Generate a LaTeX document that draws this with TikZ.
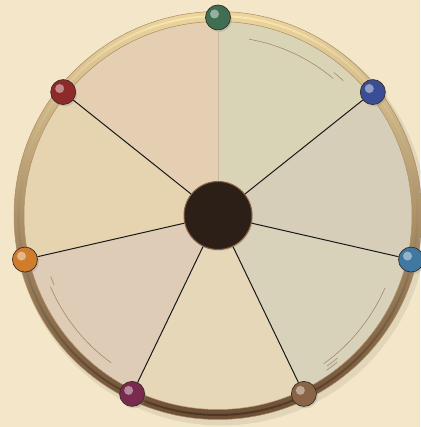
\documentclass[tikz,border=0pt]{standalone}
\usepackage{xcolor}
\usepackage{tikz}
\usetikzlibrary{shadows}
\definecolor{paper}{HTML}{F4E7C9}
\definecolor{rimlight}{HTML}{EDD59D}
\definecolor{rimdark}{HTML}{6E4E34}
\definecolor{stripelight}{HTML}{F8E6B2}
\definecolor{stripedark}{HTML}{4E3625}
\definecolor{rimedge}{HTML}{A88C66}
\definecolor{ink}{HTML}{3A2D24}
\definecolor{hubfill}{HTML}{2B1F18}
\definecolor{hubedge}{HTML}{8A6040}
\definecolor{etch}{HTML}{9E8B70}
\definecolor{seamcol}{HTML}{CDB79C}
\definecolor{wedgeA}{HTML}{DAD4B7}
\definecolor{wedgeB}{HTML}{D7CEBA}
\definecolor{wedgeC}{HTML}{D9D2BA}
\definecolor{wedgeD}{HTML}{E5D7B8}
\definecolor{wedgeE}{HTML}{DECCB6}
\definecolor{wedgeF}{HTML}{E6D4B1}
\definecolor{wedgeG}{HTML}{E4CFB3}
\definecolor{ballgreen}{HTML}{3F6E53}
\definecolor{ballblue}{HTML}{3A4E96}
\definecolor{ballteal}{HTML}{3F78A0}
\definecolor{ballbrown}{HTML}{8A6446}
\definecolor{ballmaroon}{HTML}{7A2A4C}
\definecolor{ballorange}{HTML}{CF7C2C}
\definecolor{ballred}{HTML}{8E2A2A}
\tikzset{
    ball/.style={circle, minimum size=25pt, inner sep=0pt, draw=ink, line width=0.7pt, fill=#1,
        drop shadow={shadow xshift=1.5pt, shadow yshift=-2pt, opacity=0.25},
        path picture={\fill[white, opacity=0.45] ([xshift=-3.5pt, yshift=3.5pt]path picture bounding box.center) circle (4.5pt);}},
    hub/.style={circle, minimum size=68pt, inner sep=0pt, fill=hubfill, draw=hubedge, line width=1pt,
        drop shadow={shadow xshift=1pt, shadow yshift=-1.5pt, opacity=0.2}},
    spoke/.style={black!90, line width=1pt},
    seam/.style={seamcol, line width=0.7pt},
    etching/.style={etch, line width=0.6pt}
}

\begin{document}
\begin{tikzpicture}[x=1pt, y=1pt]
    % page and disc
    \fill[paper] (-218,-211.5) rectangle (202,215.5);
    \useasboundingbox (-218,-211.5) rectangle (202,215.5);
    \fill[black, opacity=0.07] (3,-4) circle (206);
    \shade[shading angle=30, top color=rimlight, bottom color=rimdark, even odd rule] (0,0) circle (204) (0,0) circle (194);
    \shade[shading angle=30, top color=stripelight, bottom color=stripedark, even odd rule] (0,0) circle (200.5) (0,0) circle (198.5);
    \draw[rimedge, line width=0.5pt] (0,0) circle (204);

    % seven wedges
    \fill[wedgeA] (0,0) -- (90:194) arc[start angle=90, end angle=38.57, radius=194] -- cycle;
    \fill[wedgeB] (0,0) -- (38.57:194) arc[start angle=38.57, end angle=-12.86, radius=194] -- cycle;
    \fill[wedgeC] (0,0) -- (-12.86:194) arc[start angle=-12.86, end angle=-64.29, radius=194] -- cycle;
    \fill[wedgeD] (0,0) -- (-64.29:194) arc[start angle=-64.29, end angle=-115.71, radius=194] -- cycle;
    \fill[wedgeE] (0,0) -- (-115.71:194) arc[start angle=-115.71, end angle=-167.14, radius=194] -- cycle;
    \fill[wedgeF] (0,0) -- (-167.14:194) arc[start angle=-167.14, end angle=-218.57, radius=194] -- cycle;
    \fill[wedgeG] (0,0) -- (141.43:194) arc[start angle=141.43, end angle=90, radius=194] -- cycle;
    \draw[rimedge, line width=0.5pt] (0,0) circle (194);

    % etched arcs
    \draw[etching] (80:179) arc[start angle=80, end angle=50, radius=179];
    \draw[etching] (51:184) arc[start angle=51, end angle=47, radius=184];
    \draw[etching] (-23.5:182) arc[start angle=-23.5, end angle=-54.5, radius=182];
    \draw[etching] (-50:186) arc[start angle=-50, end angle=-54, radius=186];
    \draw[etching] (-51:189) arc[start angle=-51, end angle=-55, radius=189];
    \draw[etching] (203:182) arc[start angle=203, end angle=234, radius=182];
    \draw[etching] (200:178) arc[start angle=200, end angle=203, radius=178];

    % hub and beads
    \node (hub) [hub] at (0,0) {};
    \node (green) [ball=ballgreen] at (90:198) {};
    \node (blue) [ball=ballblue] at (38.57:198) {};
    \node (teal) [ball=ballteal] at (-12.86:198) {};
    \node (brown) [ball=ballbrown] at (-64.29:198) {};
    \node (maroon) [ball=ballmaroon] at (-115.71:198) {};
    \node (orange) [ball=ballorange] at (-167.14:198) {};
    \node (red) [ball=ballred] at (141.43:198) {};

    \draw [seam] (hub) -- (green);
    \draw [spoke] (hub) -- (blue);
    \draw [spoke] (hub) -- (teal);
    \draw [spoke] (hub) -- (brown);
    \draw [spoke] (hub) -- (maroon);
    \draw [spoke] (hub) -- (orange);
    \draw [spoke] (hub) -- (red);
\end{tikzpicture}
\end{document}
